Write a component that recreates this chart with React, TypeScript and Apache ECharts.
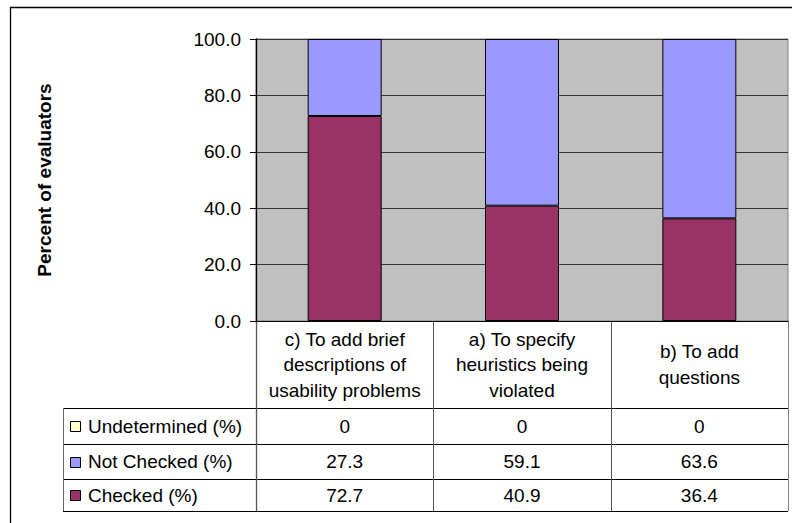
import React, { useEffect, useRef } from "react";
import * as echarts from "echarts";

const categories = [
  "c) To add brief\ndescriptions of\nusability problems",
  "a) To specify\nheuristics being\nviolated",
  "b) To add\nquestions",
];
const seriesNames = ["Undetermined (%)", "Not Checked (%)", "Checked (%)"];
const undetermined = [0, 0, 0];
const notChecked = [27.3, 59.1, 63.6];
const checked = [72.7, 40.9, 36.4];
const yTicks = { min: 0, max: 100, interval: 20 };

const COLORS = {
  undetermined: "#FFFFCC",
  notChecked: "#9999FF",
  checked: "#993366",
};

export default function App() {
  const ref = useRef<HTMLDivElement>(null);
  useEffect(() => {
    if (!ref.current) return;
    const chart = echarts.init(ref.current, null, { renderer: "svg" });
    const FONT = "Arial, 'Liberation Sans', sans-serif";
    const FS = 19;
    const gl = 256, gt = 39, gw = 532, gh = 282;
    const gb = gt + gh; // 321
    const rowLines = [408, 444, 479, 511];
    const tableLeft = 63;
    const colW = gw / categories.length;
    const rowData = [undetermined, notChecked, checked];
    const rowColors = [COLORS.undetermined, COLORS.notChecked, COLORS.checked];

    const graphics: any[] = [];
    // outer frame
    graphics.push({ type: "line", shape: { x1: 10, y1: 7.5, x2: 792, y2: 7.5 }, style: { stroke: "#000", lineWidth: 1.3 } });
    graphics.push({ type: "line", shape: { x1: 10.5, y1: 7, x2: 10.5, y2: 523 }, style: { stroke: "#000", lineWidth: 1.3 } });
    // horizontal table lines
    rowLines.forEach((y) => {
      graphics.push({ type: "line", shape: { x1: tableLeft, y1: y + 0.5, x2: gl + gw, y2: y + 0.5 }, style: { stroke: "#000", lineWidth: 1 } });
    });
    // vertical table lines
    graphics.push({ type: "line", shape: { x1: tableLeft + 0.5, y1: rowLines[0], x2: tableLeft + 0.5, y2: rowLines[3] }, style: { stroke: "#666", lineWidth: 1 } });
    for (let i = 0; i <= categories.length; i++) {
      const x = Math.round(gl + i * colW) + 0.5;
      graphics.push({ type: "line", shape: { x1: x, y1: gb, x2: x, y2: rowLines[3] }, style: { stroke: i === categories.length ? "#808080" : "#555", lineWidth: i === 0 ? 1.3 : 1 } });
    }
    // legend keys and names
    seriesNames.forEach((name, i) => {
      const cy = (rowLines[i] + rowLines[i + 1]) / 2;
      graphics.push({ type: "rect", shape: { x: 70.5, y: Math.round(cy) - 4.5, width: 10, height: 10 }, style: { fill: rowColors[i], stroke: "#000", lineWidth: 1 } });
      graphics.push({ type: "text", x: 88, y: cy, style: { text: name, font: `${FS}px ${FONT}`, fill: "#000", verticalAlign: "middle", align: "left" } });
    });

    const valueAxes = rowData.map((arr, i) => {
      const cy = (rowLines[i] + rowLines[i + 1]) / 2;
      return {
        type: "category",
        gridIndex: 0,
        position: "bottom",
        data: categories,
        axisLine: { show: false },
        axisTick: { show: false },
        splitLine: { show: false },
        axisLabel: {
          interval: 0,
          margin: cy - gb,
          verticalAlign: "middle",
          fontFamily: FONT,
          fontSize: FS,
          color: "#000",
          formatter: (_v: string, idx: number) => String(arr[idx]),
        },
      };
    });

    chart.setOption({
      animation: false,
      backgroundColor: "#fff",
      grid: {
        left: gl, top: gt, width: gw, height: gh,
        show: true, backgroundColor: "#C0C0C0", borderColor: "#808080", borderWidth: 1,
      },
      xAxis: [
        {
          type: "category",
          data: categories,
          axisLine: { show: true, lineStyle: { color: "#000", width: 1 } },
          axisTick: { show: false },
          axisLabel: {
            interval: 0,
            margin: (gb + rowLines[0]) / 2 - gb,
            verticalAlign: "middle",
            fontFamily: FONT,
            fontSize: FS,
            lineHeight: 25.5,
            color: "#000",
          },
        },
        ...valueAxes,
      ],
      yAxis: {
        type: "value",
        min: yTicks.min,
        max: yTicks.max,
        interval: yTicks.interval,
        name: "Percent of evaluators",
        nameLocation: "middle",
        nameRotate: 90,
        nameGap: 202,
        nameTextStyle: { fontFamily: FONT, fontSize: FS, fontWeight: "bold", color: "#000" },
        axisLine: { show: true, lineStyle: { color: "#000", width: 1.3 } },
        axisTick: { show: true, inside: false, length: 6, lineStyle: { color: "#000" } },
        axisLabel: {
          margin: 15,
          fontFamily: FONT,
          fontSize: FS,
          color: "#000",
          formatter: (v: number) => v.toFixed(1),
        },
        splitLine: { show: true, lineStyle: { color: "#333", width: 1 } },
      },
      series: [
        {
          name: seriesNames[2], type: "bar", stack: "s", data: checked, barWidth: 74,
          itemStyle: { color: COLORS.checked, borderColor: "#000", borderWidth: 1 },
        },
        {
          name: seriesNames[1], type: "bar", stack: "s", data: notChecked, barWidth: 74,
          itemStyle: { color: COLORS.notChecked, borderColor: "#000", borderWidth: 1 },
        },
        {
          name: seriesNames[0], type: "bar", stack: "s", data: undetermined, barWidth: 74,
          itemStyle: { color: COLORS.undetermined, borderColor: "#000", borderWidth: 0 },
        },
      ],
      graphic: graphics,
    });
    return () => chart.dispose();
  }, []);
  return <div ref={ref} style={{ position: "fixed", left: 0, top: 0, width: 792, height: 523 }} />;
}
